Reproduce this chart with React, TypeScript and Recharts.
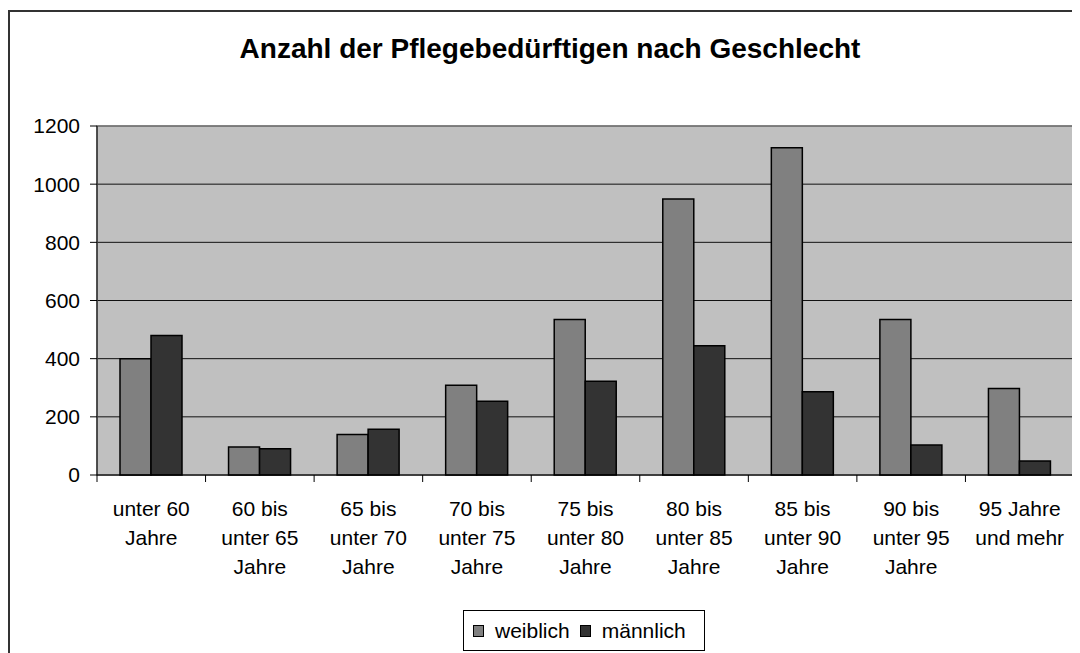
import React from 'react';
import { BarChart, Bar, XAxis, YAxis, CartesianGrid, ReferenceArea } from 'recharts';

const categories = [
  'unter 60\nJahre',
  '60 bis\nunter 65\nJahre',
  '65 bis\nunter 70\nJahre',
  '70 bis\nunter 75\nJahre',
  '75 bis\nunter 80\nJahre',
  '80 bis\nunter 85\nJahre',
  '85 bis\nunter 90\nJahre',
  '90 bis\nunter 95\nJahre',
  '95 Jahre\nund mehr',
];
const weiblich = [400, 96, 139, 309, 535, 949, 1125, 535, 297];
const maennlich = [480, 90, 157, 254, 322, 444, 286, 103, 48];
const yTicks = [0, 200, 400, 600, 800, 1000, 1200];
const seriesNames = ['weiblich', 'männlich'];
const seriesColors = ['#808080', '#333333'];

const data = categories.map((c, i) => ({ cat: c, weiblich: weiblich[i], maennlich: maennlich[i] }));

const FONT = '"Liberation Sans", Arial, sans-serif';

const XTick = (props: any) => {
  const { x, y, payload, index } = props;
  const off = payload && payload.offset ? payload.offset : 54.3;
  const lines = String(payload.value).split('\n');
  const last = index === categories.length - 1;
  return (
    <g>
      <line x1={x - off} x2={x - off} y1={y} y2={y + 7} stroke="#000" strokeWidth={1} />
      {last && <line x1={x + off} x2={x + off} y1={y} y2={y + 7} stroke="#000" strokeWidth={1} />}
      <text x={x} y={y} textAnchor="middle" fontFamily={FONT} fontSize={21} fill="#000">
        {lines.map((l, i) => (
          <tspan key={i} x={x} dy={i === 0 ? 41 : 29}>{l}</tspan>
        ))}
      </text>
    </g>
  );
};

const LegendBox = () => (
  <div
    style={{
      position: 'absolute',
      left: 463,
      top: 610,
      boxSizing: 'border-box',
      width: 242,
      height: 41,
      border: '1px solid #000',
      background: '#fff',
      display: 'flex',
      alignItems: 'center',
      paddingLeft: 9,
      fontFamily: FONT,
      fontSize: 21,
      color: '#000',
    }}
  >
    {seriesNames.map((n, i) => (
      <React.Fragment key={n}>
        <span style={{ display: 'inline-block', width: 9, height: 10, background: seriesColors[i], border: '1px solid #000', marginRight: 11 }} />
        <span style={{ marginRight: 10 }}>{n}</span>
      </React.Fragment>
    ))}
  </div>
);

export default function App() {
  return (
    <div style={{ position: 'relative', width: 1080, height: 653, marginLeft: -8, marginTop: -8, overflow: 'hidden', background: '#fff' }}>
      <div
        style={{
          position: 'absolute',
          left: 8,
          top: 10,
          width: 1120,
          height: 700,
          border: '2px solid #333',
          boxSizing: 'border-box',
        }}
      />
      <div
        style={{
          position: 'absolute',
          left: 0,
          top: 35,
          width: 1100,
          textAlign: 'center',
          fontFamily: FONT,
          fontWeight: 'bold',
          fontSize: 28,
          lineHeight: '28px',
          color: '#000',
        }}
      >
        Anzahl der Pflegebedürftigen nach Geschlecht
      </div>
      <div style={{ position: 'absolute', left: 0, top: 0 }}>
        <BarChart
          width={1080}
          height={653}
          data={data}
          margin={{ top: 126, right: 6, bottom: 0, left: 0 }}
          barGap={0}
          barSize={31}
        >
          <CartesianGrid horizontal vertical={false} fill="#c0c0c0" stroke="#111" strokeWidth={1} />
          <ReferenceArea y1={0} y2={1200} fill="none" stroke="#808080" strokeWidth={1.5} ifOverflow="visible" />
          <XAxis
            dataKey="cat"
            height={178}
            interval={0}
            tick={<XTick />}
            tickLine={false}
            tickSize={0}
            tickMargin={0}
            axisLine={{ stroke: '#000', strokeWidth: 1 }}
          />
          <YAxis
            width={97}
            domain={[0, 1200]}
            ticks={yTicks}
            interval={0}
            tickSize={7}
            tickMargin={10}
            tick={{ fontFamily: FONT, fontSize: 21, fill: '#000' }}
            tickLine={{ stroke: '#000' }}
            axisLine={{ stroke: '#000', strokeWidth: 1 }}
          />
          <Bar dataKey="weiblich" name="weiblich" fill="#808080" stroke="#000" strokeWidth={1.5} isAnimationActive={false} />
          <Bar dataKey="maennlich" name="männlich" fill="#333333" stroke="#000" strokeWidth={1.5} isAnimationActive={false} />
        </BarChart>
      </div>
      <LegendBox />
    </div>
  );
}
